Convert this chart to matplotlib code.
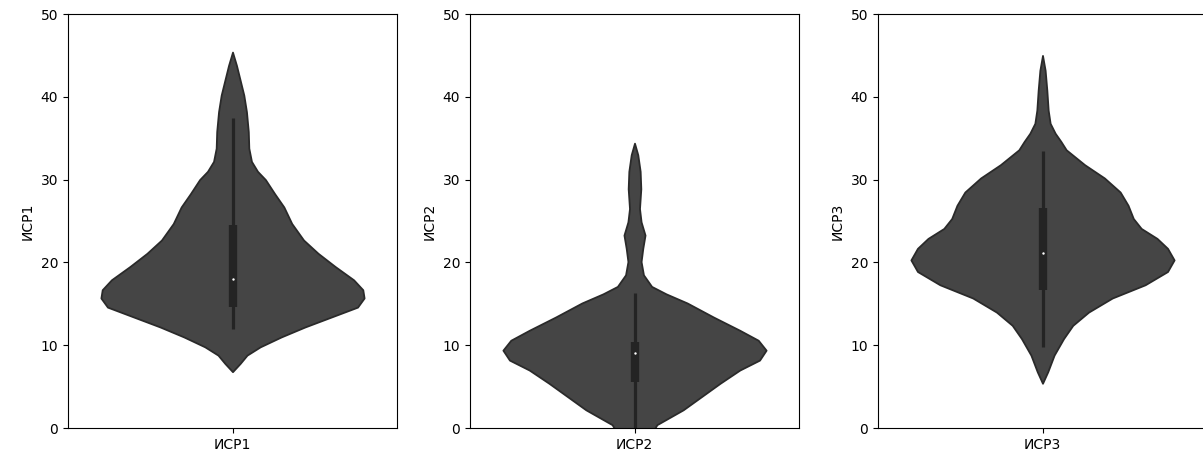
import numpy as np
import matplotlib
matplotlib.use("Agg")
from matplotlib import pyplot as plt

plt.rc('font', family='DejaVu Sans', size=10)

names = ["ИСР1", "ИСР2", "ИСР3"]

# violin outline: value level -> relative half width (1 = widest)
isr1_levels = [45.4, 43.8, 42.2, 40.2, 38.2, 35.8, 33.8, 32.2, 31.0, 30.0, 28.3, 26.7,
               24.7, 22.7, 21.1, 19.5, 17.9, 16.7, 15.7, 14.6, 13.4, 12.2, 11.0, 9.8,
               8.8, 7.8, 6.8]
isr1_width = [0.0, 0.03, 0.055, 0.086, 0.106, 0.12, 0.124, 0.144, 0.19, 0.25, 0.32, 0.39,
              0.45, 0.54, 0.65, 0.78, 0.92, 0.99, 1.0, 0.95, 0.75, 0.55, 0.37, 0.21,
              0.11, 0.058, 0.0]

isr2_levels = [34.4, 33.0, 31.0, 28.9, 26.5, 24.9, 23.3, 21.7, 20.1, 18.5, 17.1, 16.2,
               15.1, 13.4, 11.8, 10.6, 9.4, 8.2, 7.0, 5.4, 3.8, 2.2, 0.4, -1.5, -3.0, -4.5]
isr2_width = [0.0, 0.025, 0.043, 0.048, 0.038, 0.05, 0.08, 0.063, 0.05, 0.068, 0.13, 0.24,
              0.40, 0.60, 0.80, 0.94, 1.0, 0.95, 0.80, 0.65, 0.51, 0.37, 0.17, 0.10, 0.04, 0.0]

isr3_levels = [45.0, 43.2, 40.8, 38.4, 36.8, 35.6, 34.6, 33.6, 31.8, 30.2, 28.5, 26.9,
               25.3, 24.1, 22.9, 21.7, 20.3, 18.9, 17.3, 15.7, 14.0, 12.4, 10.8, 8.8,
               6.8, 5.4]
isr3_width = [0.0, 0.02, 0.033, 0.043, 0.058, 0.096, 0.14, 0.18, 0.32, 0.47, 0.59, 0.65,
              0.69, 0.75, 0.87, 0.95, 1.0, 0.95, 0.78, 0.53, 0.35, 0.23, 0.16, 0.088,
              0.04, 0.0]

# box stats: whisker low, q1, median, q3, whisker high
isr1_box = [12.0, 14.6, 18.0, 24.5, 37.4]
isr2_box = [-5.0, 5.5, 9.1, 10.4, 16.3]
isr3_box = [9.8, 16.7, 21.1, 26.6, 33.4]

levels = [isr1_levels, isr2_levels, isr3_levels]
widths = [isr1_width, isr2_width, isr3_width]
boxes = [isr1_box, isr2_box, isr3_box]

fig = plt.figure(figsize=(12.03, 4.68), dpi=100)
W, H = 1203.0, 468.0
lefts = [68, 470, 878]
axw = 329
top, bottom = 14, 428

for k in range(3):
    ax = fig.add_axes([lefts[k] / W, 1 - bottom / H, axw / W, (bottom - top) / H])
    y = np.array(levels[k])
    hw = np.array(widths[k]) * 0.4
    ax.fill_betweenx(y, -hw, hw, facecolor="#454545", edgecolor="#2a2a2a",
                     linewidth=1.3, joinstyle="round", zorder=1)
    lo, q1, med, q3, hi = boxes[k]
    ax.plot([0, 0], [lo, hi], color="#242424", lw=2.3, solid_capstyle="butt", zorder=2)
    ax.plot([0, 0], [q1, q3], color="#242424", lw=6, solid_capstyle="butt", zorder=3)
    ax.scatter([0], [med], s=3, color="white", linewidths=0, zorder=4)
    ax.set_xlim(-0.5, 0.5)
    ax.set_ylim(0, 50)
    ax.set_yticks([0, 10, 20, 30, 40, 50])
    ax.set_xticks([0])
    ax.set_xticklabels([names[k]])
    ax.set_ylabel(names[k])

plt.savefig("out.png", dpi=100)
